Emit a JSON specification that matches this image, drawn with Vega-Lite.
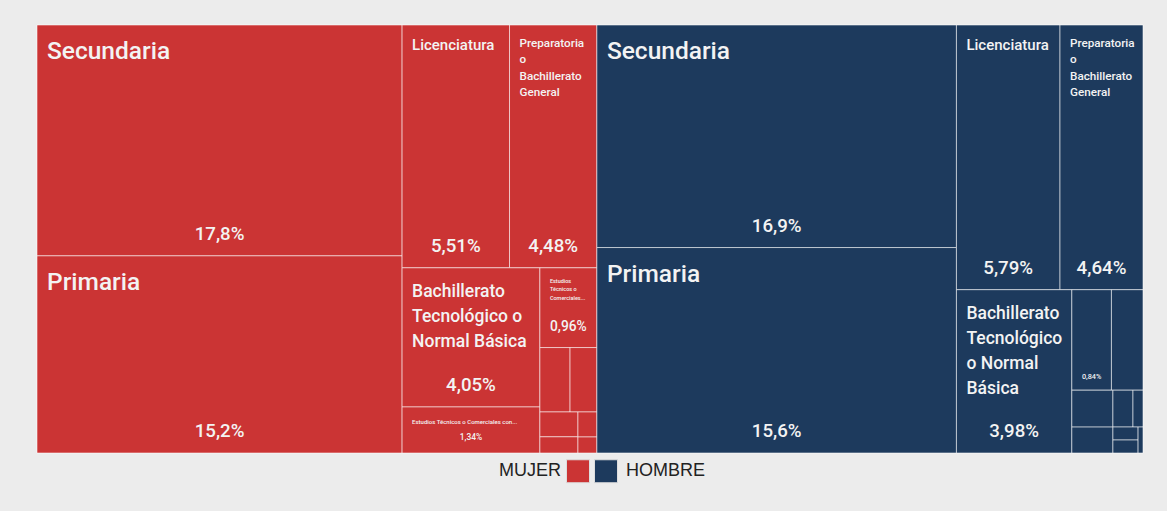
{
  "$schema": "https://vega.github.io/schema/vega-lite/v6.json",
  "width": 1106,
  "height": 428,
  "autosize": {"type": "none"},
  "padding": {"left": 37, "top": 25, "right": 24, "bottom": 58},
  "background": "#ececec",
  "config": {
    "view": {"stroke": null},
    "locale": {"number": {"decimal": ",", "thousands": ".", "grouping": [3], "currency": ["", " €"]}},
    "text": {"font": "Roboto", "fontWeight": 500, "color": "#f3f3f3", "lineBreak": "\n"}
  },
  "data": {
    "values": [
      {"g": "MUJER", "n": "Secundaria", "v": 17.8, "o": 1, "p1": "M1", "p2": "Ma", "p3": "Ma", "p4": "Ma", "p5": "Ma", "p6": "Ma", "p7": "Ma", "p8": "Ma", "et": "Secundaria"},
      {"g": "MUJER", "n": "Primaria", "v": 15.2, "o": 2, "p1": "M1", "p2": "Mb", "p3": "Mb", "p4": "Mb", "p5": "Mb", "p6": "Mb", "p7": "Mb", "p8": "Mb", "et": "Primaria"},
      {"g": "MUJER", "n": "Licenciatura", "v": 5.51, "o": 3, "p1": "M2", "p2": "MA", "p3": "MAl", "p4": "MAl", "p5": "MAl", "p6": "MAl", "p7": "MAl", "p8": "MAl", "et": "Licenciatura"},
      {"g": "MUJER", "n": "Preparatoria o Bachillerato General", "v": 4.48, "o": 4, "p1": "M2", "p2": "MA", "p3": "MAp", "p4": "MAp", "p5": "MAp", "p6": "MAp", "p7": "MAp", "p8": "MAp", "et": "Preparatoria\no\nBachillerato\nGeneral"},
      {"g": "MUJER", "n": "Bachillerato Tecnológico o Normal Básica", "v": 4.05, "o": 5, "p1": "M2", "p2": "MB", "p3": "MB1", "p4": "MB1b", "p5": "MB1b", "p6": "MB1b", "p7": "MB1b", "p8": "MB1b", "et": "Bachillerato\nTecnológico o\nNormal Básica"},
      {"g": "MUJER", "n": "Estudios Técnicos o Comerciales con Secundaria Terminada", "v": 1.34, "o": 6, "p1": "M2", "p2": "MB", "p3": "MB1", "p4": "MB1e", "p5": "MB1e", "p6": "MB1e", "p7": "MB1e", "p8": "MB1e", "et": "Estudios Técnicos o Comerciales con..."},
      {"g": "MUJER", "n": "Estudios Técnicos o Comerciales con Preparatoria Terminada", "v": 0.96, "o": 7, "p1": "M2", "p2": "MB", "p3": "MB2", "p4": "MB2a", "p5": "MB2a", "p6": "MB2a", "p7": "MB2a", "p8": "MB2a", "et": "Estudios\nTécnicos o\nComerciales..."},
      {"g": "MUJER", "n": "Maestría", "v": 0.41, "o": 8, "p1": "M2", "p2": "MB", "p3": "MB2", "p4": "MB2b", "p5": "MB2b1", "p6": "MB2b1", "p7": "MB2b1", "p8": "MB2b1"},
      {"g": "MUJER", "n": "Normal de Licenciatura", "v": 0.365, "o": 9, "p1": "M2", "p2": "MB", "p3": "MB2", "p4": "MB2b", "p5": "MB2b2", "p6": "MB2b2", "p7": "MB2b2", "p8": "MB2b2"},
      {"g": "MUJER", "n": "Sin Escolaridad", "v": 0.2, "o": 10, "p1": "M2", "p2": "MB", "p3": "MB2", "p4": "MB2c", "p5": "MB2c1", "p6": "MB2c1C", "p7": "MB2c1C", "p8": "MB2c1C"},
      {"g": "MUJER", "n": "Especialidad", "v": 0.13, "o": 11, "p1": "M2", "p2": "MB", "p3": "MB2", "p4": "MB2c", "p5": "MB2c1", "p6": "MB2c1E", "p7": "MB2c1E", "p8": "MB2c1E"},
      {"g": "MUJER", "n": "Preescolar", "v": 0.1, "o": 12, "p1": "M2", "p2": "MB", "p3": "MB2", "p4": "MB2c", "p5": "MB2c2", "p6": "MB2c2D", "p7": "MB2c2D", "p8": "MB2c2D"},
      {"g": "MUJER", "n": "Doctorado", "v": 0.064, "o": 13, "p1": "M2", "p2": "MB", "p3": "MB2", "p4": "MB2c", "p5": "MB2c2", "p6": "MB2c2F", "p7": "MB2c2F", "p8": "MB2c2F"},
      {"g": "HOMBRE", "n": "Secundaria", "v": 16.9, "o": 14, "p1": "H1", "p2": "Ha", "p3": "Ha", "p4": "Ha", "p5": "Ha", "p6": "Ha", "p7": "Ha", "p8": "Ha", "et": "Secundaria"},
      {"g": "HOMBRE", "n": "Primaria", "v": 15.6, "o": 15, "p1": "H1", "p2": "Hb", "p3": "Hb", "p4": "Hb", "p5": "Hb", "p6": "Hb", "p7": "Hb", "p8": "Hb", "et": "Primaria"},
      {"g": "HOMBRE", "n": "Licenciatura", "v": 5.79, "o": 16, "p1": "H2", "p2": "HA", "p3": "HAl", "p4": "HAl", "p5": "HAl", "p6": "HAl", "p7": "HAl", "p8": "HAl", "et": "Licenciatura"},
      {"g": "HOMBRE", "n": "Preparatoria o Bachillerato General", "v": 4.64, "o": 17, "p1": "H2", "p2": "HA", "p3": "HAp", "p4": "HAp", "p5": "HAp", "p6": "HAp", "p7": "HAp", "p8": "HAp", "et": "Preparatoria\no\nBachillerato\nGeneral"},
      {"g": "HOMBRE", "n": "Bachillerato Tecnológico o Normal Básica", "v": 3.98, "o": 18, "p1": "H2", "p2": "HB", "p3": "HB1", "p4": "HB1", "p5": "HB1", "p6": "HB1", "p7": "HB1", "p8": "HB1", "et": "Bachillerato\nTecnológico\no Normal\nBásica"},
      {"g": "HOMBRE", "n": "Maestría", "v": 0.84, "o": 19, "p1": "H2", "p2": "HB", "p3": "HB2", "p4": "HB2t", "p5": "HB2t1", "p6": "HB2t1", "p7": "HB2t1", "p8": "HB2t1"},
      {"g": "HOMBRE", "n": "Estudios Técnicos o Comerciales con Secundaria Terminada", "v": 0.67, "o": 20, "p1": "H2", "p2": "HB", "p3": "HB2", "p4": "HB2t", "p5": "HB2t2", "p6": "HB2t2", "p7": "HB2t2", "p8": "HB2t2"},
      {"g": "HOMBRE", "n": "Estudios Técnicos o Comerciales con Preparatoria Terminada", "v": 0.32, "o": 21, "p1": "H2", "p2": "HB", "p3": "HB2", "p4": "HB2u", "p5": "HB2uc", "p6": "HB2uc3", "p7": "HB2uc3", "p8": "HB2uc3"},
      {"g": "HOMBRE", "n": "Normal de Licenciatura", "v": 0.225, "o": 22, "p1": "H2", "p2": "HB", "p3": "HB2", "p4": "HB2u", "p5": "HB2uc", "p6": "HB2uc4", "p7": "HB2uc4", "p8": "HB2uc4"},
      {"g": "HOMBRE", "n": "Sin Escolaridad", "v": 0.156, "o": 23, "p1": "H2", "p2": "HB", "p3": "HB2", "p4": "HB2u", "p5": "HB2ur", "p6": "HB2urt", "p7": "HB2urt5", "p8": "HB2urt5"},
      {"g": "HOMBRE", "n": "Especialidad", "v": 0.078, "o": 24, "p1": "H2", "p2": "HB", "p3": "HB2", "p4": "HB2u", "p5": "HB2ur", "p6": "HB2urt", "p7": "HB2urt6", "p8": "HB2urt6"},
      {"g": "HOMBRE", "n": "Doctorado", "v": 0.069, "o": 25, "p1": "H2", "p2": "HB", "p3": "HB2", "p4": "HB2u", "p5": "HB2ur", "p6": "HB2urb", "p7": "HB2urba", "p8": "HB2urba7"},
      {"g": "HOMBRE", "n": "Preescolar", "v": 0.069, "o": 26, "p1": "H2", "p2": "HB", "p3": "HB2", "p4": "HB2u", "p5": "HB2ur", "p6": "HB2urb", "p7": "HB2urba", "p8": "HB2urba8"},
      {"g": "HOMBRE", "n": "No Especificado", "v": 0.027, "o": 27, "p1": "H2", "p2": "HB", "p3": "HB2", "p4": "HB2u", "p5": "HB2ur", "p6": "HB2urb", "p7": "HB2urb9", "p8": "HB2urb9"}
    ]
  },
  "transform": [
    {"joinaggregate": [{"op": "sum", "field": "v", "as": "S0"}]},
    {"joinaggregate": [{"op": "sum", "field": "v", "as": "S1"}], "groupby": ["p1"]},
    {"stack": "v", "groupby": [], "sort": [{"field": "o", "order": "ascending"}], "as": ["A1", "B1"]},
    {"joinaggregate": [{"op": "min", "field": "A1", "as": "C1"}], "groupby": ["p1"]},
    {"calculate": "datum.C1 / datum.S0", "as": "xa1"},
    {"calculate": "(datum.C1 + datum.S1) / datum.S0", "as": "xb1"},

    {"joinaggregate": [{"op": "sum", "field": "v", "as": "S2"}], "groupby": ["p1", "p2"]},
    {"stack": "v", "groupby": ["p1"], "sort": [{"field": "o", "order": "ascending"}], "as": ["A2", "B2"]},
    {"joinaggregate": [{"op": "min", "field": "A2", "as": "C2"}], "groupby": ["p1", "p2"]},
    {"calculate": "datum.C2 / datum.S1", "as": "ya2"},
    {"calculate": "(datum.C2 + datum.S2) / datum.S1", "as": "yb2"},

    {"joinaggregate": [{"op": "sum", "field": "v", "as": "S3"}], "groupby": ["p1", "p2", "p3"]},
    {"stack": "v", "groupby": ["p1", "p2"], "sort": [{"field": "o", "order": "ascending"}], "as": ["A3", "B3"]},
    {"joinaggregate": [{"op": "min", "field": "A3", "as": "C3"}], "groupby": ["p1", "p2", "p3"]},
    {"calculate": "datum.xa1 + datum.C3 / datum.S2 * (datum.xb1 - datum.xa1)", "as": "xa3"},
    {"calculate": "datum.xa1 + (datum.C3 + datum.S3) / datum.S2 * (datum.xb1 - datum.xa1)", "as": "xb3"},

    {"joinaggregate": [{"op": "sum", "field": "v", "as": "S4"}], "groupby": ["p1", "p2", "p3", "p4"]},
    {"stack": "v", "groupby": ["p1", "p2", "p3"], "sort": [{"field": "o", "order": "ascending"}], "as": ["A4", "B4"]},
    {"joinaggregate": [{"op": "min", "field": "A4", "as": "C4"}], "groupby": ["p1", "p2", "p3", "p4"]},
    {"calculate": "datum.ya2 + datum.C4 / datum.S3 * (datum.yb2 - datum.ya2)", "as": "ya4"},
    {"calculate": "datum.ya2 + (datum.C4 + datum.S4) / datum.S3 * (datum.yb2 - datum.ya2)", "as": "yb4"},

    {"joinaggregate": [{"op": "sum", "field": "v", "as": "S5"}], "groupby": ["p1", "p2", "p3", "p4", "p5"]},
    {"stack": "v", "groupby": ["p1", "p2", "p3", "p4"], "sort": [{"field": "o", "order": "ascending"}], "as": ["A5", "B5"]},
    {"joinaggregate": [{"op": "min", "field": "A5", "as": "C5"}], "groupby": ["p1", "p2", "p3", "p4", "p5"]},
    {"calculate": "datum.xa3 + datum.C5 / datum.S4 * (datum.xb3 - datum.xa3)", "as": "xa5"},
    {"calculate": "datum.xa3 + (datum.C5 + datum.S5) / datum.S4 * (datum.xb3 - datum.xa3)", "as": "xb5"},

    {"joinaggregate": [{"op": "sum", "field": "v", "as": "S6"}], "groupby": ["p1", "p2", "p3", "p4", "p5", "p6"]},
    {"stack": "v", "groupby": ["p1", "p2", "p3", "p4", "p5"], "sort": [{"field": "o", "order": "ascending"}], "as": ["A6", "B6"]},
    {"joinaggregate": [{"op": "min", "field": "A6", "as": "C6"}], "groupby": ["p1", "p2", "p3", "p4", "p5", "p6"]},
    {"calculate": "datum.ya4 + datum.C6 / datum.S5 * (datum.yb4 - datum.ya4)", "as": "ya6"},
    {"calculate": "datum.ya4 + (datum.C6 + datum.S6) / datum.S5 * (datum.yb4 - datum.ya4)", "as": "yb6"},

    {"joinaggregate": [{"op": "sum", "field": "v", "as": "S7"}], "groupby": ["p1", "p2", "p3", "p4", "p5", "p6", "p7"]},
    {"stack": "v", "groupby": ["p1", "p2", "p3", "p4", "p5", "p6"], "sort": [{"field": "o", "order": "ascending"}], "as": ["A7", "B7"]},
    {"joinaggregate": [{"op": "min", "field": "A7", "as": "C7"}], "groupby": ["p1", "p2", "p3", "p4", "p5", "p6", "p7"]},
    {"calculate": "datum.xa5 + datum.C7 / datum.S6 * (datum.xb5 - datum.xa5)", "as": "xa7"},
    {"calculate": "datum.xa5 + (datum.C7 + datum.S7) / datum.S6 * (datum.xb5 - datum.xa5)", "as": "xb7"},

    {"joinaggregate": [{"op": "sum", "field": "v", "as": "S8"}], "groupby": ["p1", "p2", "p3", "p4", "p5", "p6", "p7", "p8"]},
    {"stack": "v", "groupby": ["p1", "p2", "p3", "p4", "p5", "p6", "p7"], "sort": [{"field": "o", "order": "ascending"}], "as": ["A8", "B8"]},
    {"joinaggregate": [{"op": "min", "field": "A8", "as": "C8"}], "groupby": ["p1", "p2", "p3", "p4", "p5", "p6", "p7", "p8"]},
    {"calculate": "datum.ya6 + datum.C8 / datum.S7 * (datum.yb6 - datum.ya6)", "as": "ya8"},
    {"calculate": "datum.ya6 + (datum.C8 + datum.S8) / datum.S7 * (datum.yb6 - datum.ya6)", "as": "yb8"},

    {"calculate": "(datum.xa7 + datum.xb7) / 2", "as": "xc"},
    {"calculate": "datum.v / 100", "as": "frac"}
  ],
  "layer": [
    {
      "mark": {"type": "rect", "stroke": "#ffffff", "strokeOpacity": 0.55, "strokeWidth": 1},
      "encoding": {
        "x": {"field": "xa7", "type": "quantitative", "axis": null, "scale": {"domain": [0, 1], "nice": false, "zero": false}},
        "x2": {"field": "xb7"},
        "y": {"field": "ya8", "type": "quantitative", "axis": null, "scale": {"domain": [0, 1], "nice": false, "zero": false, "reverse": true}},
        "y2": {"field": "yb8"},
        "color": {
          "field": "g", "type": "nominal",
          "scale": {"domain": ["MUJER", "HOMBRE"], "range": ["#cb3434", "#1d3a5d"]},
          "legend": {
            "orient": "none", "legendX": 529, "legendY": 434, "direction": "horizontal", "title": null,
            "padding": 0, "symbolType": "square", "symbolSize": 529, "symbolStrokeColor": "#dddddd", "symbolStrokeWidth": 1,
            "symbolOpacity": 1, "labelFont": "Liberation Sans", "labelFontSize": 18, "labelColor": "#222222",
            "labelOffset": 8, "columnPadding": 0, "labelLimit": 300,
            "encode": {"labels": {"update": {
              "align": {"signal": "datum.value === 'MUJER' ? 'right' : 'left'"},
              "dx": {"signal": "datum.value === 'MUJER' ? -37 : 0"}
            }}}
          }
        }
      }
    },
    {
      "transform": [{"filter": "datum.v > 15"}],
      "mark": {"type": "text", "align": "left", "baseline": "alphabetic", "fontSize": 24.5, "dx": 10, "dy": 34},
      "encoding": {
        "x": {"field": "xa7", "type": "quantitative", "axis": null, "scale": {"domain": [0, 1], "nice": false, "zero": false}},
        "y": {"field": "ya8", "type": "quantitative", "axis": null, "scale": {"domain": [0, 1], "nice": false, "zero": false, "reverse": true}},
        "text": {"field": "et"}
      }
    },
    {
      "transform": [{"filter": "datum.n == 'Bachillerato Tecnológico o Normal Básica'"}],
      "mark": {"type": "text", "align": "left", "baseline": "alphabetic", "fontSize": 17.5, "lineHeight": 25, "dx": 10, "dy": 29},
      "encoding": {
        "x": {"field": "xa7", "type": "quantitative", "axis": null, "scale": {"domain": [0, 1], "nice": false, "zero": false}},
        "y": {"field": "ya8", "type": "quantitative", "axis": null, "scale": {"domain": [0, 1], "nice": false, "zero": false, "reverse": true}},
        "text": {"field": "et"}
      }
    },
    {
      "transform": [{"filter": "datum.n == 'Licenciatura'"}],
      "mark": {"type": "text", "align": "left", "baseline": "alphabetic", "fontSize": 15, "dx": 10, "dy": 25},
      "encoding": {
        "x": {"field": "xa7", "type": "quantitative", "axis": null, "scale": {"domain": [0, 1], "nice": false, "zero": false}},
        "y": {"field": "ya8", "type": "quantitative", "axis": null, "scale": {"domain": [0, 1], "nice": false, "zero": false, "reverse": true}},
        "text": {"field": "et"}
      }
    },
    {
      "transform": [{"filter": "datum.n == 'Preparatoria o Bachillerato General'"}],
      "mark": {"type": "text", "align": "left", "baseline": "alphabetic", "fontSize": 11.7, "lineHeight": 16.3, "dx": 10, "dy": 22},
      "encoding": {
        "x": {"field": "xa7", "type": "quantitative", "axis": null, "scale": {"domain": [0, 1], "nice": false, "zero": false}},
        "y": {"field": "ya8", "type": "quantitative", "axis": null, "scale": {"domain": [0, 1], "nice": false, "zero": false, "reverse": true}},
        "text": {"field": "et"}
      }
    },
    {
      "transform": [{"filter": "datum.o == 6"}],
      "mark": {"type": "text", "align": "left", "baseline": "alphabetic", "fontSize": 6, "dx": 10, "dy": 17},
      "encoding": {
        "x": {"field": "xa7", "type": "quantitative", "axis": null, "scale": {"domain": [0, 1], "nice": false, "zero": false}},
        "y": {"field": "ya8", "type": "quantitative", "axis": null, "scale": {"domain": [0, 1], "nice": false, "zero": false, "reverse": true}},
        "text": {"field": "et"}
      }
    },
    {
      "transform": [{"filter": "datum.o == 7"}],
      "mark": {"type": "text", "align": "left", "baseline": "alphabetic", "fontSize": 5.5, "lineHeight": 8.5, "dx": 10, "dy": 15},
      "encoding": {
        "x": {"field": "xa7", "type": "quantitative", "axis": null, "scale": {"domain": [0, 1], "nice": false, "zero": false}},
        "y": {"field": "ya8", "type": "quantitative", "axis": null, "scale": {"domain": [0, 1], "nice": false, "zero": false, "reverse": true}},
        "text": {"field": "et"}
      }
    },
    {
      "transform": [{"filter": "datum.v >= 3.9"}],
      "mark": {"type": "text", "align": "center", "baseline": "alphabetic", "fontSize": 18.7, "dy": -16},
      "encoding": {
        "x": {"field": "xc", "type": "quantitative", "axis": null, "scale": {"domain": [0, 1], "nice": false, "zero": false}},
        "y": {"field": "yb8", "type": "quantitative", "axis": null, "scale": {"domain": [0, 1], "nice": false, "zero": false, "reverse": true}},
        "text": {"field": "frac", "type": "quantitative", "format": ".3~p"}
      }
    },
    {
      "transform": [{"filter": "datum.o == 7"}],
      "mark": {"type": "text", "align": "center", "baseline": "alphabetic", "fontSize": 13.8, "dy": -17},
      "encoding": {
        "x": {"field": "xc", "type": "quantitative", "axis": null, "scale": {"domain": [0, 1], "nice": false, "zero": false}},
        "y": {"field": "yb8", "type": "quantitative", "axis": null, "scale": {"domain": [0, 1], "nice": false, "zero": false, "reverse": true}},
        "text": {"field": "frac", "type": "quantitative", "format": ".3~p"}
      }
    },
    {
      "transform": [{"filter": "datum.o == 6"}],
      "mark": {"type": "text", "align": "center", "baseline": "alphabetic", "fontSize": 8.4, "dy": -13},
      "encoding": {
        "x": {"field": "xc", "type": "quantitative", "axis": null, "scale": {"domain": [0, 1], "nice": false, "zero": false}},
        "y": {"field": "yb8", "type": "quantitative", "axis": null, "scale": {"domain": [0, 1], "nice": false, "zero": false, "reverse": true}},
        "text": {"field": "frac", "type": "quantitative", "format": ".3~p"}
      }
    },
    {
      "transform": [{"filter": "datum.o == 19"}],
      "mark": {"type": "text", "align": "center", "baseline": "alphabetic", "fontSize": 7.3, "dy": -11},
      "encoding": {
        "x": {"field": "xc", "type": "quantitative", "axis": null, "scale": {"domain": [0, 1], "nice": false, "zero": false}},
        "y": {"field": "yb8", "type": "quantitative", "axis": null, "scale": {"domain": [0, 1], "nice": false, "zero": false, "reverse": true}},
        "text": {"field": "frac", "type": "quantitative", "format": ".3~p"}
      }
    }
  ]
}
